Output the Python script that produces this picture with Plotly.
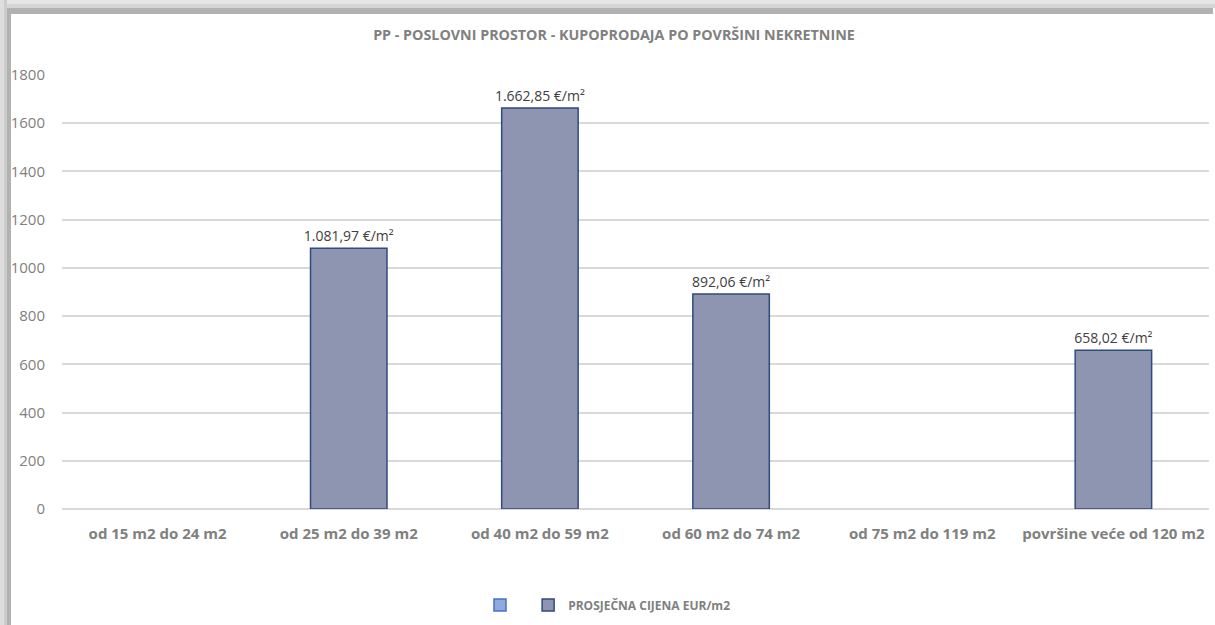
import plotly.graph_objects as go

categories = ["od 15 m2 do 24 m2", "od 25 m2 do 39 m2", "od 40 m2 do 59 m2",
              "od 60 m2 do 74 m2", "od 75 m2 do 119 m2", "površine veće od 120 m2"]
prices = [None, 1081.97, 1662.85, 892.06, None, 658.02]
empty_series = [None, None, None, None, None, None]
series_name = "PROSJEČNA CIJENA EUR/m2"
title = "PP - POSLOVNI PROSTOR - KUPOPRODAJA PO POVRŠINI NEKRETNINE"
y_ticks = [0, 200, 400, 600, 800, 1000, 1200, 1400, 1600, 1800]


def fmt(v):
    if v is None:
        return ""
    s = f"{v:,.2f}"
    s = s.replace(",", "X").replace(".", ",").replace("X", ".")
    return s + " €/m²"


FONT = "Open Sans"
GRAY = "#808080"

fig = go.Figure()
fig.add_trace(go.Bar(
    x=categories, y=empty_series, name=" ",
    marker=dict(color="#8faadc", line=dict(color="#4472c4", width=1.5)),
    showlegend=True, hoverinfo="skip",
))
fig.add_trace(go.Bar(
    x=categories, y=prices, name=series_name,
    marker=dict(color="#8d95b1", line=dict(color="#2f4b80", width=1.5)),
    text=[fmt(v) for v in prices], textposition="outside",
    textfont=dict(family=FONT, size=14, color="#404040"),
    constraintext="none",
    cliponaxis=False,
))

shapes = []
W, H = 1215, 625
l, t, b, r = 62, 75, 116, 6
pw, ph = W - l - r, H - t - b


def px2x(px):
    return (px - l) / pw


def py2y(py):
    return (H - b - py) / ph


for (x0, y0, x1, y1, c) in [
    (0, 0, 1215, 4, "#e6e6e6"),
    (0, 4, 1215, 8, "#d6d6d6"),
    (0, 8, 1213, 14, "#b2b2b2"),
    (0, 0, 4, 625, "#dedede"),
    (4, 0, 7, 625, "#cccccc"),
    (7, 8, 11, 625, "#b2b2b2"),
]:
    shapes.append(dict(type="rect", xref="paper", yref="paper",
                       x0=px2x(x0), x1=px2x(x1), y0=py2y(y0), y1=py2y(y1),
                       fillcolor=c, line=dict(width=0), layer="below"))

fig.update_layout(
    width=W, height=H,
    margin=dict(l=l, r=r, t=t, b=b),
    paper_bgcolor="white", plot_bgcolor="white",
    barmode="overlay", bargap=0.6,
    title=dict(text=f"<b>{title}</b>", x=614 / W, xanchor="center",
               y=1 - 35 / H, yanchor="middle",
               font=dict(family=FONT, size=14.3, color=GRAY)),
    font=dict(family=FONT, color=GRAY),
    xaxis=dict(showgrid=False, showline=False, ticks="",
               tickfont=dict(family=FONT, size=15, color=GRAY, weight="bold"),
               ticklabelstandoff=14),
    yaxis=dict(range=[0, 1800], tickvals=y_ticks, showgrid=True,
               gridcolor="#d9d9d9", gridwidth=1.5, zeroline=True,
               zerolinecolor="#d9d9d9", zerolinewidth=1.5,
               tickfont=dict(family=FONT, size=15, color=GRAY),
               ticklabelstandoff=16, showline=False),
    legend=dict(orientation="h", x=px2x(608), xanchor="center",
                y=py2y(605), yanchor="middle",
                font=dict(family=FONT, size=12, color=GRAY, weight="bold"),
                itemwidth=30),
    shapes=shapes,
)

fig.write_html("out.html", config={"displayModeBar": False},
               post_script="document.body.style.margin='0';")
